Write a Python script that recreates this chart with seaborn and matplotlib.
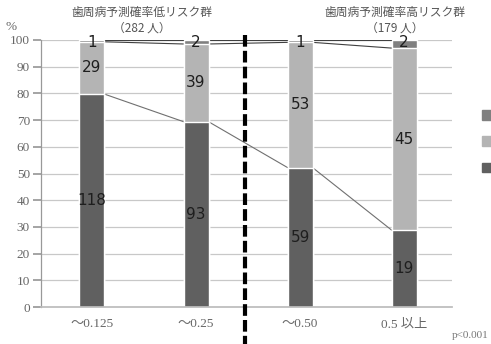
import numpy as np
import pandas as pd
import seaborn as sns
import matplotlib
matplotlib.use("Agg")
import matplotlib.pyplot as plt
from matplotlib.patches import Patch
from matplotlib.lines import Line2D

sns.set_theme(style="white")
plt.rcParams['font.family'] = ['Noto Sans CJK JP', 'DejaVu Sans']

categories = ["～0.125", "～0.25", "～0.50", "0.5 以上"]
bottom_counts = [118, 93, 59, 19]
middle_counts = [29, 39, 53, 45]
top_counts = [1, 2, 1, 2]
group_titles = ["歯周病予測確率低リスク群\n（282 人）", "歯周病予測確率高リスク群\n（179 人）"]

c_bottom = "#606060"
c_middle = "#b4b4b4"
c_top = "#808080"

b = np.array(bottom_counts, float)
m = np.array(middle_counts, float)
t = np.array(top_counts, float)
tot = b + m + t
pb = b / tot * 100
pm = m / tot * 100
pt = t / tot * 100
cum1 = pb
cum2 = pb + pm
cum3 = cum2 + pt

df = pd.DataFrame({"cat": categories, "c1": cum1, "c2": cum2, "c3": cum3})

fig = plt.figure(figsize=(4.91, 3.44), dpi=100)
ax = fig.add_axes([41/491, 1-307/344, (452-41)/491, (307-40)/344])

ax.set_ylim(0, 100)
ax.set_yticks(range(0, 101, 10))
for yv in range(10, 101, 10):
    ax.axhline(yv, color="#c8c8c8", lw=0.9, zorder=0)

w = 0.24
sns.barplot(data=df, x="cat", y="c3", color=c_top, width=w, saturation=1, ax=ax, zorder=2)
sns.barplot(data=df, x="cat", y="c2", color=c_middle, width=w, saturation=1, ax=ax, zorder=2)
sns.barplot(data=df, x="cat", y="c1", color=c_bottom, width=w, saturation=1, ax=ax, zorder=2)
ax.set_xlim(-0.49, 3.46)

# series lines
xs = np.arange(len(categories))
for cum, col in [(cum1, "#707070"), (cum2, "#404040"), (cum3, "#404040")]:
    for i in range(len(xs) - 1):
        ax.plot([xs[i] + w/2, xs[i+1] - w/2], [cum[i], cum[i+1]], color=col, lw=0.8, zorder=1)

# labels
lab_kw = dict(ha="center", va="center", fontsize=11, color="#1e1e1e", family="DejaVu Sans", zorder=3)
for i in range(len(xs)):
    ax.text(xs[i], pb[i]/2, str(bottom_counts[i]), **lab_kw)
    ax.text(xs[i], cum1[i] + pm[i]/2, str(middle_counts[i]), **lab_kw)
    ax.text(xs[i], 99.0, str(top_counts[i]), **lab_kw)

tick_fam = ['Liberation Serif', 'Noto Sans CJK JP']
ax.set_xlabel("")
ax.set_ylabel("%", rotation=0, fontsize=9.5, color="#666666", family=tick_fam, ha="left", va="center")
ax.yaxis.set_label_coords(-36/411, 1 + 13/267)
for s in ["top", "right"]:
    ax.spines[s].set_visible(False)
ax.spines["left"].set_color("#999999")
ax.spines["bottom"].set_color("#bbbbbb")
ax.spines["left"].set_linewidth(0.9)
ax.tick_params(axis="y", which="both", left=True, length=6, color="#999999", labelcolor="#666666", labelsize=9.5, pad=2)
ax.tick_params(axis="x", length=0, labelcolor="#666666", labelsize=9.5, pad=8)
for lbl in ax.get_yticklabels() + ax.get_xticklabels():
    lbl.set_family(tick_fam)

# dashed divider
fig.add_artist(Line2D([245/491, 245/491], [1-35/344, 0], color="black", lw=3.0, linestyle=(0, (2.8, 1.0))))

fig.text(142/491, 1-20/344, group_titles[0], ha="center", va="center", fontsize=8.5, color="#555555", linespacing=1.25)
fig.text(395/491, 1-20/344, group_titles[1], ha="center", va="center", fontsize=8.5, color="#555555", linespacing=1.25)
fig.text(489/491, 1-336/344, "p<0.001", fontsize=8, color="#777777", va="center", ha="right", family=tick_fam)

handles = [Patch(color=c_top), Patch(color=c_middle), Patch(color=c_bottom)]
fig.legend(handles, [" ", " ", " "], loc="center left", bbox_to_anchor=(471/491, 1-142/344),
           frameon=False, handlelength=0.8, handleheight=0.8, labelspacing=1.05, fontsize=9, handletextpad=0.2)

fig.savefig("out.png", dpi=100)
